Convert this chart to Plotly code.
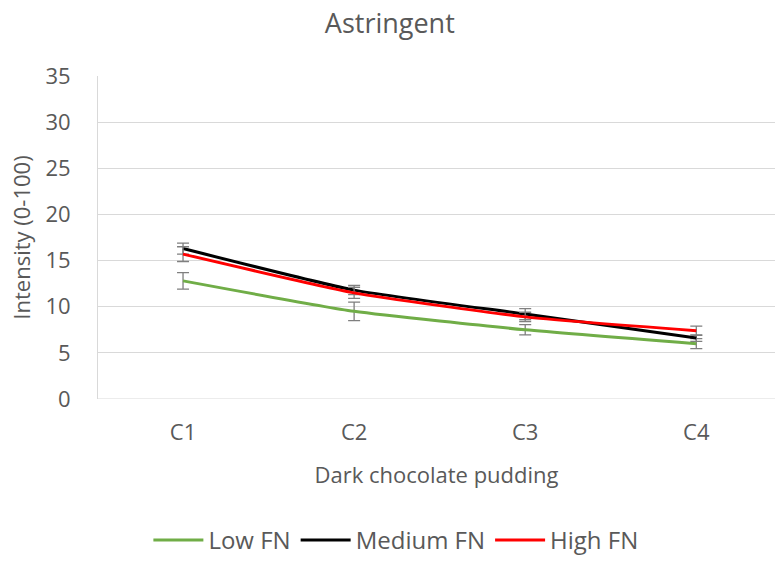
import plotly.graph_objects as go

categories = ["C1", "C2", "C3", "C4"]
low_fn = [12.8, 9.5, 7.5, 6.0]
low_err = [0.9, 1.0, 0.55, 0.55]
medium_fn = [16.3, 11.8, 9.2, 6.6]
medium_err = [0.6, 0.5, 0.6, 0.35]
high_fn = [15.7, 11.5, 8.9, 7.4]
high_err = [0.8, 0.6, 0.5, 0.5]
y_ticks = [0, 5, 10, 15, 20, 25, 30, 35]

FONT = "Open Sans"
TXT = "#595959"

fig = go.Figure()
series = [
    ("Low FN", low_fn, low_err, "#70AD47"),
    ("Medium FN", medium_fn, medium_err, "#000000"),
    ("High FN", high_fn, high_err, "#FF0000"),
]
for name, vals, errs, col in series:
    fig.add_trace(go.Scatter(
        x=[0, 1, 2, 3], y=vals, name=name, mode="lines",
        line=dict(color=col, width=3, shape="spline", smoothing=0.5),
        error_y=dict(type="data", array=errs, visible=True,
                     color="#7f7f7f", thickness=1.3, width=6),
    ))

fig.update_layout(
    width=775, height=563,
    margin=dict(l=98, r=0, t=76, b=162),
    paper_bgcolor="white", plot_bgcolor="white",
    title=dict(text="Astringent", x=0.503, xanchor="center", y=0.958, yanchor="middle",
               font=dict(family=FONT, size=27, color=TXT)),
    font=dict(family=FONT, color=TXT),
    showlegend=True,
    legend=dict(orientation="h", x=0.44, xanchor="center", y=-0.44, yanchor="middle",
                font=dict(family=FONT, size=24, color=TXT), itemwidth=50,
                traceorder="normal"),
)
fig.update_xaxes(
    tickmode="array", tickvals=[0, 1, 2, 3], ticktext=categories,
    range=[-0.497, 3.46], showgrid=False, zeroline=False,
    showline=False, ticks="", ticklabelstandoff=18,
    tickfont=dict(family=FONT, size=22, color=TXT),
    title=dict(text="Dark chocolate pudding", standoff=22,
               font=dict(family=FONT, size=22, color=TXT)),
)
fig.update_yaxes(
    range=[0, 35], tickmode="array", tickvals=y_ticks,
    showgrid=True, gridcolor="#d9d9d9", gridwidth=1,
    zeroline=False, showline=True, linecolor="#d9d9d9", linewidth=1,
    ticks="", ticklabelstandoff=22,
    tickfont=dict(family=FONT, size=22, color=TXT),
    title=dict(text="Intensity (0-100)", standoff=8,
               font=dict(family=FONT, size=22, color=TXT)),
)
fig.add_shape(type="line", xref="paper", yref="y", x0=0, x1=1, y0=0, y1=0,
              line=dict(color="#d9d9d9", width=1))

fig.write_html("out.html")
